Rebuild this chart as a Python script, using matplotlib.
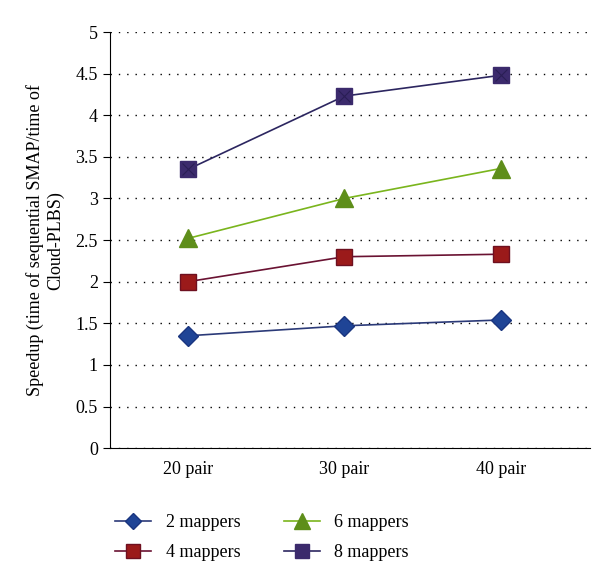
import matplotlib
matplotlib.use("Agg")
import matplotlib.pyplot as plt

plt.rcParams['font.family'] = ['Liberation Serif', 'DejaVu Serif']

categories = ['20 pair', '30 pair', '40 pair']
m2 = [1.35, 1.47, 1.54]
m4 = [2.0, 2.3, 2.33]
m6 = [2.52, 3.0, 3.36]
m8 = [3.35, 4.23, 4.48]
labels = ['2 mappers', '4 mappers', '6 mappers', '8 mappers']
yticks = [0, 0.5, 1, 1.5, 2, 2.5, 3, 3.5, 4, 4.5, 5]

fig = plt.figure(figsize=(6, 5.82), dpi=100)
ax = fig.add_axes([0.183, 0.23, 0.80, 0.715])

x = range(len(categories))
ax.plot(x, m2, '-D', color='#2b3a78', mfc='#1f4496', mec='#1a3580', ms=10, lw=1.2, label=labels[0])
ax.plot(x, m4, '-s', color='#6a1232', mfc='#9b1a1a', mec='#6e1020', ms=12, lw=1.2, label=labels[1])
ax.plot(x, m6, '-^', color='#7ab51d', mfc='#5e8e1a', mec='#5e8e1a', ms=13, lw=1.2, label=labels[2])
ax.plot(x, m8, '-s', color='#2c2660', mfc='#3b2a6c', mec='#3b2a6c', ms=12, lw=1.2, label=labels[3])
ax.plot(x, m8, 'x', color='#2a1e55', ms=9, mew=0.8)

ax.set_xlim(-0.5, 2.57)
ax.set_ylim(0, 5)
ax.set_yticks(yticks)
ax.set_yticklabels(['0', '0.5', '1', '1.5', '2', '2.5', '3', '3.5', '4', '4.5', '5'])
ax.set_xticks(list(x))
ax.set_xticklabels(categories)
ax.tick_params(axis='x', length=0, pad=9, labelsize=13)
ax.tick_params(axis='y', length=5, labelsize=13, direction='out')
ax.yaxis.grid(True, linestyle=(0, (1, 5)), color='black', lw=1.0)
ax.set_axisbelow(True)
for s in ['top', 'right']:
    ax.spines[s].set_visible(False)
ax.set_ylabel('Speedup (time of sequential SMAP/time of\nCloud-PLBS)', fontsize=13, labelpad=8)

h, l = ax.get_legend_handles_labels()
fig.legend(h, l, ncol=2, loc='upper left', bbox_to_anchor=(0.165, 0.145),
           frameon=False, fontsize=13, handlelength=2.0, columnspacing=2.4,
           labelspacing=0.75, markerscale=0.85)

fig.savefig('out.png', dpi=100)
